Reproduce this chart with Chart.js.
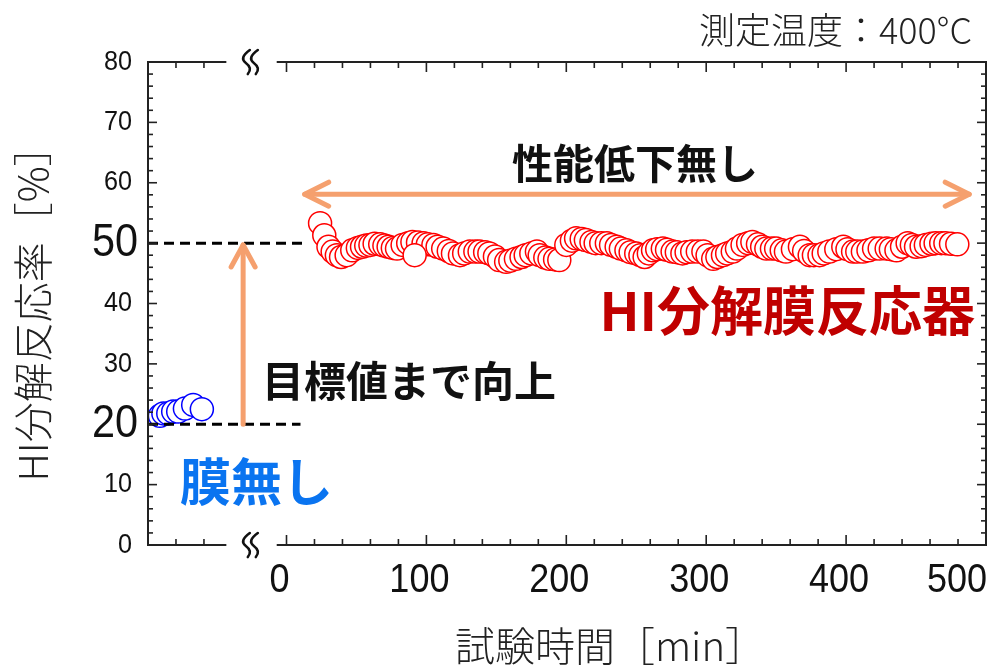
<!DOCTYPE html>
<html><head><meta charset="utf-8">
<script src="https://cdn.jsdelivr.net/npm/chart.js@4/dist/chart.umd.min.js"></script>
<style>html,body{margin:0;padding:0;background:#fff;overflow:hidden}#wrap{width:1002px;height:669px;position:relative}</style>
</head><body><div id="wrap"><canvas id="c" width="1002" height="669"></canvas></div>
<script>
// ---- data ----
// No-membrane test (plotted on the left, separate short time segment)
const noMembraneTime = [-90.5, -88, -84.5, -81, -77.4, -72.6, -66.7, -60.5];
const noMembraneRate = [21.4, 21.8, 21.8, 22.1, 22.1, 22.6, 23.2, 22.5];
// HI decomposition membrane reactor
const membraneTime = [24,27,30,33,36,39,43,47,51,54,57,60,63,67,70,73,76,79,83,87,90,94,98,101,105,108,112,116,119,124,127,131,135,138,142,145,149,152,157,160,164,168,171,175,179,181,185,188,192,195,200,204,207,211,214,218,221,225,229,232,236,239,243,246,250,253,256,259,262,265,269,272,276,279,283,286,290,294,298,301,305,308,312,315,319,322,326,330,333,337,340,343,347,350,354,357,362,367,370,374,377,381,384,388,393,398,401,405,408,412,416,420,424,429,432,436,440,444,447,450,454,457,461,464,468,471,475,479.5,91.6];
const membraneRate = [53.3,51.3,49.4,48.6,48.0,47.7,48.0,48.8,49.2,49.4,49.6,49.7,49.9,49.8,49.6,49.4,49.2,49.1,49.7,50.0,50.2,50.1,50.0,49.8,49.7,49.4,49.1,48.7,48.3,48.0,48.3,48.6,48.6,48.6,48.5,48.3,47.8,47.2,46.9,47.1,47.4,47.7,48.0,48.3,48.6,48.0,47.6,47.4,47.3,47.2,49.7,50.4,50.8,50.7,50.5,50.2,50.0,50.0,50.0,49.7,49.4,49.1,48.8,48.5,48.3,48.0,47.7,48.3,48.8,49.0,49.1,48.9,48.6,48.5,48.3,48.5,48.6,48.6,48.6,48.0,47.4,47.7,48.0,48.3,48.6,49.1,49.7,50.0,50.2,49.8,49.4,49.1,49.1,49.1,48.8,48.6,49.0,49.4,48.7,48.0,48.0,48.0,48.3,48.6,49.0,49.4,49.0,48.6,48.6,48.6,48.8,49.1,49.1,49.1,49.0,48.8,49.4,50.0,49.7,49.4,49.5,49.7,49.9,50.0,50.0,50.0,49.9,49.8,48.0];
// tick labels
const xTickLabels = [0, 100, 200, 300, 400, 500];
const yTickLabelsSmall = [0, 10, 30, 40, 60, 70, 80];
const yTickLabelsLarge = [20, 50];
// reference lines (target values)
const targetLevels = [20, 50];

// ---- axis geometry in data units ----
const X_MIN = -99, X_MAX = 500, Y_MIN = 0, Y_MAX = 80;
const LEFT_SEG_END = -43, RIGHT_SEG_START = -7, BREAK_AT = -25.5;
const LEFT_SEG_TICKS = [-79, -59];

const NUM_FONT = '"Liberation Sans", Arial, sans-serif';
const JP_FONT = '"Noto Sans CJK JP", "Noto Sans", sans-serif';
const ORANGE = '#F5A06E';

function txt(ctx, s, x, y, font, color, align, sx) {
  ctx.save();
  ctx.font = font; ctx.fillStyle = color; ctx.textBaseline = 'middle';
  ctx.translate(x, y); ctx.scale(sx || 1, 1);
  ctx.textAlign = align || 'center';
  ctx.fillText(s, 0, 0);
  ctx.restore();
}
function seg(ctx, x1, y1, x2, y2) { ctx.beginPath(); ctx.moveTo(x1, y1); ctx.lineTo(x2, y2); ctx.stroke(); }

const decor = {
  id: 'decor',
  afterDatasetsDraw(chart) {
    const ctx = chart.ctx, xs = chart.scales.x, ys = chart.scales.y;
    const X = v => xs.getPixelForValue(v), Y = v => ys.getPixelForValue(v);
    ctx.save();
    // dashed target lines
    ctx.strokeStyle = '#000'; ctx.lineWidth = 3; ctx.setLineDash([10, 6]);
    seg(ctx, X(X_MIN), Y(targetLevels[1]), X(13), Y(targetLevels[1]));
    seg(ctx, X(X_MIN), Y(targetLevels[0]), X(10), Y(targetLevels[0]));
    ctx.setLineDash([]);
    // orange arrows
    ctx.strokeStyle = ORANGE; ctx.lineWidth = 5; ctx.lineCap = 'round'; ctx.lineJoin = 'round';
    const ay = Y(58.1), ax1 = X(13), ax2 = X(488);
    seg(ctx, ax1, ay, ax2, ay);
    ctx.beginPath(); ctx.moveTo(ax1 + 24, ay - 12); ctx.lineTo(ax1, ay); ctx.lineTo(ax1 + 24, ay + 12); ctx.stroke();
    ctx.beginPath(); ctx.moveTo(ax2 - 24, ay - 12); ctx.lineTo(ax2, ay); ctx.lineTo(ax2 - 24, ay + 12); ctx.stroke();
    const vx = X(-31), vy1 = Y(20), vy2 = Y(49.7);
    seg(ctx, vx, vy1, vx, vy2);
    ctx.beginPath(); ctx.moveTo(vx - 12, vy2 + 22); ctx.lineTo(vx, vy2); ctx.lineTo(vx + 12, vy2 + 22); ctx.stroke();
    ctx.restore();
  },
  afterDraw(chart) {
    const ctx = chart.ctx, xs = chart.scales.x, ys = chart.scales.y;
    const X = v => xs.getPixelForValue(v), Y = v => ys.getPixelForValue(v);
    const xl = X(X_MIN), xr = X(X_MAX), yt = Y(Y_MAX), yb = Y(Y_MIN);
    ctx.save();
    ctx.strokeStyle = '#222'; ctx.lineWidth = 2; ctx.lineCap = 'butt';
    seg(ctx, xl, yt - 1, xl, yb + 1);
    seg(ctx, xr, yt - 1, xr, yb + 1);
    for (const yy of [yt, yb]) {
      seg(ctx, xl, yy, X(LEFT_SEG_END), yy);
      seg(ctx, X(RIGHT_SEG_START), yy, xr, yy);
    }
    ctx.lineWidth = 1.6;
    for (let v = Y_MIN; v <= Y_MAX; v += 2) {
      const len = v % 10 === 0 ? 9 : 5;
      seg(ctx, xl, Y(v), xl + len, Y(v));
      seg(ctx, xr, Y(v), xr - len, Y(v));
    }
    for (let v = 0; v <= X_MAX; v += 20) {
      const len = v % 100 === 0 ? 10 : 6;
      seg(ctx, X(v), yt, X(v), yt + len);
      seg(ctx, X(v), yb, X(v), yb - len);
    }
    for (const v of LEFT_SEG_TICKS) {
      seg(ctx, X(v), yt, X(v), yt + 6);
      seg(ctx, X(v), yb, X(v), yb - 6);
    }
    // break marks (two chevron-like waves)
    ctx.lineWidth = 2.6; ctx.strokeStyle = '#111'; ctx.lineJoin = 'round'; ctx.lineCap = 'round';
    for (const yy of [yt, yb]) {
      const cx = X(BREAK_AT);
      for (const dx of [-4, 4]) {
        ctx.beginPath();
        ctx.moveTo(cx + dx + 3, yy - 12);
        ctx.quadraticCurveTo(cx + dx - 8, yy - 4, cx + dx - 1, yy + 1);
        ctx.quadraticCurveTo(cx + dx + 6, yy + 6, cx + dx + 1, yy + 12);
        ctx.stroke();
      }
    }
    // tick labels
    for (const v of xTickLabels) {
      if (v === X_MAX) txt(ctx, String(v), xr + 1, 581, '40px ' + NUM_FONT, '#111', 'right', 0.9);
      else txt(ctx, String(v), X(v) - 7, 581, '40px ' + NUM_FONT, '#111', 'center', 0.9);
    }
    for (const v of yTickLabelsSmall) txt(ctx, String(v), xl - 16, Y(v), '28px ' + NUM_FONT, '#111', 'right', 0.9);
    for (const v of yTickLabelsLarge) txt(ctx, String(v), xl - 10, Y(v), '46px ' + NUM_FONT, '#111', 'right', 0.9);
    // axis titles
    txt(ctx, '試験時間［min］', 610, 646, '300 40px ' + JP_FONT, '#222', 'center');
    ctx.save(); ctx.translate(33, 304); ctx.rotate(-Math.PI / 2);
    txt(ctx, 'HI分解反応率［%］', 0, 0, '300 40px ' + JP_FONT, '#222', 'center');
    ctx.restore();
    txt(ctx, '測定温度：400°C', 972, 30, '300 36px ' + JP_FONT, '#222', 'right');
    // annotations
    txt(ctx, '性能低下無し', 635, 163, 'bold 41px ' + JP_FONT, '#111', 'center');
    txt(ctx, 'HI分解膜反応器', 975, 311, 'bold 53px ' + JP_FONT, '#C00000', 'right');
    txt(ctx, '目標値まで向上', 262, 381, 'bold 42px ' + JP_FONT, '#111', 'left');
    txt(ctx, '膜無し', 180, 482, 'bold 51px ' + JP_FONT, '#0A74F0', 'left');
    ctx.restore();
  }
};

const toPts = (xa, ya) => xa.map((x, i) => ({ x, y: ya[i] }));

new Chart(document.getElementById('c'), {
  type: 'scatter',
  data: {
    datasets: [
      { label: '膜無し', data: toPts(noMembraneTime, noMembraneRate), pointRadius: 11.5, pointBorderWidth: 1.5,
        borderColor: '#0000FF', backgroundColor: '#FFFFFF', pointHoverRadius: 11.5, clip: false },
      { label: 'HI分解膜反応器', data: toPts(membraneTime, membraneRate), pointRadius: 11.5, pointBorderWidth: 1.5,
        borderColor: '#FF0000', backgroundColor: '#FFFFFF', pointHoverRadius: 11.5, clip: false }
    ]
  },
  options: {
    responsive: false, animation: false, devicePixelRatio: 1,
    layout: { padding: { left: 148, right: 16, top: 62, bottom: 124 } },
    plugins: { legend: { display: false }, tooltip: { enabled: false } },
    events: [],
    scales: {
      x: { type: 'linear', min: X_MIN, max: X_MAX, display: false },
      y: { type: 'linear', min: Y_MIN, max: Y_MAX, display: false }
    }
  },
  plugins: [decor]
});
</script></body></html>
